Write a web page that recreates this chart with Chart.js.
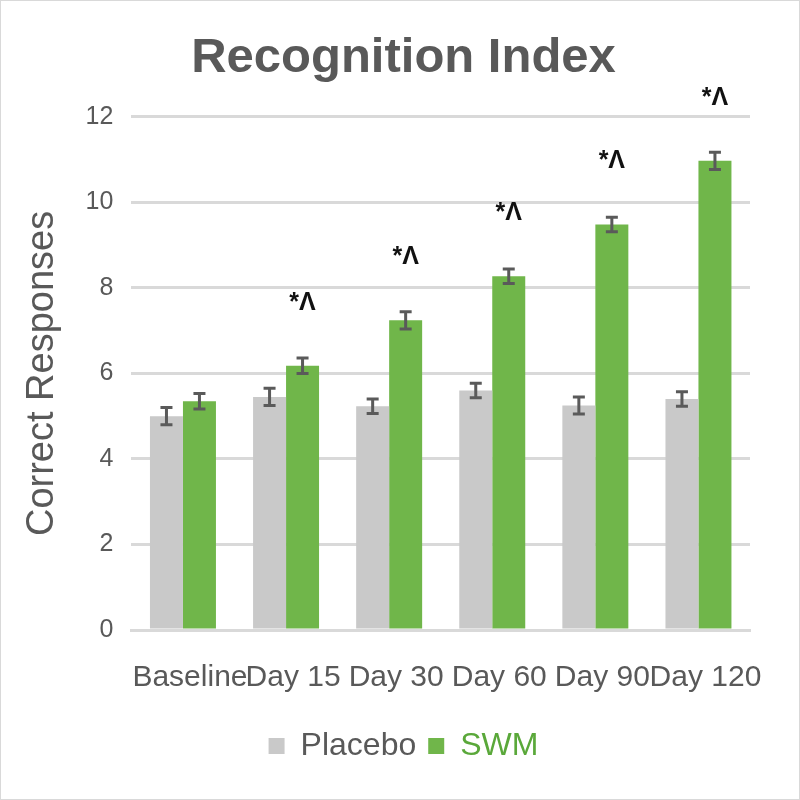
<!DOCTYPE html>
<html>
<head>
<meta charset="utf-8">
<script src="https://cdn.jsdelivr.net/npm/chart.js@4.4.0/dist/chart.umd.min.js"></script>
<style>
  html, body { margin: 0; padding: 0; background: #fff; }
  #wrap { width: 798px; height: 798px; border: 1px solid #d9d9d9; }
</style>
</head>
<body>
<div id="wrap"><canvas id="chart" width="798" height="798"></canvas></div>
<script>
const categories = ["Baseline", "Day 15", "Day 30", "Day 60", "Day 90", "Day 120"];
const placebo = [5.0, 5.45, 5.23, 5.6, 5.25, 5.4];
const swm = [5.35, 6.18, 7.24, 8.27, 9.48, 10.97];
const placeboErr = [0.2, 0.2, 0.17, 0.17, 0.2, 0.17];
const swmErr = [0.18, 0.18, 0.2, 0.17, 0.17, 0.2];
const marks = ["", "*Λ", "*Λ", "*Λ", "*Λ", "*Λ"];
const yTicks = [0, 2, 4, 6, 8, 10, 12];

const errs = [placeboErr, swmErr];

const errorBars = {
  id: "errorBars",
  afterDatasetsDraw(chart) {
    const ctx = chart.ctx;
    const y = chart.scales.y;
    ctx.save();
    ctx.strokeStyle = "#5a5a5a";
    ctx.lineWidth = 3;
    chart.data.datasets.forEach((ds, i) => {
      chart.getDatasetMeta(i).data.forEach((bar, j) => {
        const v = ds.data[j];
        const e = errs[i][j];
        const top = y.getPixelForValue(v + e);
        const bot = y.getPixelForValue(v - e);
        ctx.beginPath();
        ctx.moveTo(bar.x, top); ctx.lineTo(bar.x, bot);
        ctx.moveTo(bar.x - 6, top); ctx.lineTo(bar.x + 6, top);
        ctx.moveTo(bar.x - 6, bot); ctx.lineTo(bar.x + 6, bot);
        ctx.stroke();
      });
    });
    // significance marks over SWM bars
    ctx.fillStyle = "#111";
    ctx.font = "bold 25px 'Liberation Sans', Arial, sans-serif";
    ctx.textAlign = "center";
    ctx.textBaseline = "middle";
    chart.getDatasetMeta(1).data.forEach((bar, j) => {
      if (marks[j]) ctx.fillText(marks[j], bar.x, bar.y - 63);
    });
    ctx.restore();
  }
};

const ctx = document.getElementById("chart").getContext("2d");

new Chart(ctx, {
  type: "bar",
  data: {
    labels: categories,
    datasets: [
      {
        label: "Placebo",
        data: placebo,
        backgroundColor: "#c9c9c9",
      },
      {
        label: "SWM",
        data: swm,
        backgroundColor: "#70b64a",
      },
    ],
  },
  options: {
    responsive: false,
    animation: false,
    categoryPercentage: 0.64,
    barPercentage: 1.0,
    layout: { padding: { left: 19, right: 12, top: 10, bottom: 27 } },
    plugins: {
      title: {
        display: true,
        text: "Recognition Index",
        color: "#595959",
        font: { family: "'Liberation Sans', Arial, sans-serif", size: 49, weight: "bold" },
        padding: { top: 18, bottom: 29 },
      },
      legend: {
        position: "bottom",
        labels: {
          font: { family: "'Liberation Sans', Arial, sans-serif", size: 32 },
          boxWidth: 16,
          boxHeight: 16,
          padding: 12,
          generateLabels(chart) {
            const cols = ["#595959", "#5aa83a"];
            return chart.data.datasets.map((ds, i) => ({
              text: ds.label,
              fillStyle: ds.backgroundColor,
              strokeStyle: ds.backgroundColor,
              lineWidth: 0,
              fontColor: cols[i],
              datasetIndex: i,
              hidden: false,
            }));
          },
        },
      },
      tooltip: { enabled: false },
    },
    scales: {
      x: {
        grid: { display: false },
        border: { color: "#d9d9d9", width: 3 },
        ticks: {
          color: "#595959",
          maxRotation: 0,
          autoSkip: false,
          labelOffset: 7,
          font: { family: "'Liberation Sans', Arial, sans-serif", size: 30 },
          padding: 22,
        },
      },
      y: {
        min: 0,
        max: 12,
        afterBuildTicks(axis) {
          axis.ticks = yTicks.map(v => ({ value: v }));
        },
        grid: { color: "#d9d9d9", lineWidth: 3, drawTicks: false },
        border: { display: false },
        ticks: {
          color: "#595959",
          padding: 18,
          font: { family: "'Liberation Sans', Arial, sans-serif", size: 25 },
        },
        title: {
          display: true,
          text: "Correct Responses",
          color: "#595959",
          font: { family: "'Liberation Sans', Arial, sans-serif", size: 38 },
          padding: { top: 0, bottom: 2 },
        },
      },
      // empty right-hand axis, only to keep space at the right edge
      yRight: {
        position: "right",
        grid: { display: false, drawOnChartArea: false },
        border: { display: false },
        ticks: { display: false },
        afterFit(axis) { axis.width = 37; },
      },
    },
  },
  plugins: [errorBars],
});
</script>
</body>
</html>
